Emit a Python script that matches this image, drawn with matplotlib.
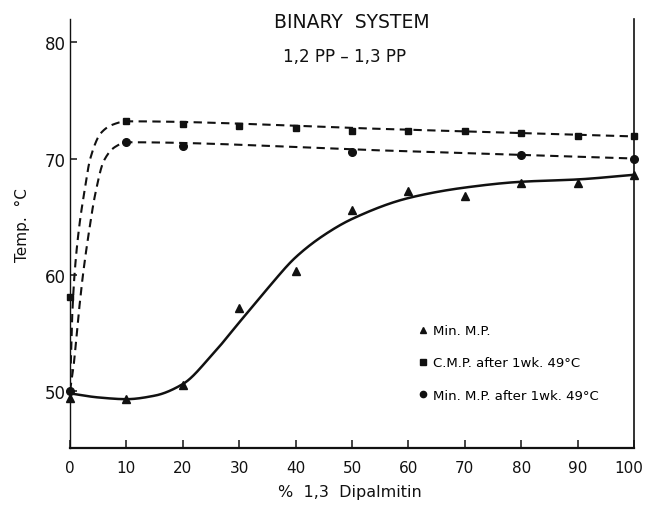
import numpy as np
import matplotlib
matplotlib.use("Agg")
import matplotlib.pyplot as plt
import matplotlib.transforms as mtransforms
from matplotlib.lines import Line2D

# Measured points (% 1,3 dipalmitin vs temperature, °C)
pct = [0, 10, 20, 30, 40, 50, 60, 70, 80, 90, 100]
min_mp = [49.4, 49.3, 50.5, 57.1, 60.3, 65.6, 67.2, 66.8, 67.9, 67.9, 68.6]
cmp_1wk = [58.1, 73.2, 73.0, 72.8, 72.6, 72.4, 72.4, 72.4, 72.2, 71.9, 71.9]
pct_min_1wk = [0, 10, 20, 50, 80, 100]
min_mp_1wk = [50.0, 71.4, 71.1, 70.6, 70.3, 70.0]

# Hand-drawn trend curves, traced as knots
min_mp_curve_x = [0, 5, 10, 15, 20, 25, 30, 35, 40, 45, 50, 60, 70, 80, 90, 100]
min_mp_curve_y = [49.8, 49.45, 49.3, 49.6, 50.6, 53.0, 55.9, 58.8, 61.5, 63.4,
                  64.8, 66.6, 67.5, 68.0, 68.2, 68.6]
cmp_curve_x = [0, 0.35, 0.8, 1.6, 2.5, 3.6, 5.5, 7.5, 10, 55, 100]
cmp_curve_y = [50.0, 56.0, 60.0, 64.0, 67.0, 70.0, 72.2, 72.9, 73.2, 72.55, 71.9]
min_1wk_curve_x = [0, 0.6, 1.4, 2.3, 3.3, 4.5, 6.0, 8.0, 10, 55, 100]
min_1wk_curve_y = [50.0, 52.0, 56.0, 60.0, 63.5, 67.0, 69.8, 71.0, 71.4, 70.7, 70.0]

x_ticks = [0, 10, 20, 30, 40, 50, 60, 70, 80, 90, 100]
y_ticks = [50, 60, 70, 80]
legend_labels = ["Min. M.P.", "C.M.P. after 1wk. 49°C", "Min. M.P. after 1wk. 49°C"]


def pchip(xk, yk, n=2000):
    """Monotone piecewise cubic Hermite curve through the knots."""
    xk = np.asarray(xk, float)
    yk = np.asarray(yk, float)
    h = np.diff(xk)
    d = np.diff(yk) / h
    m = np.zeros_like(yk)
    for i in range(1, len(xk) - 1):
        if d[i - 1] * d[i] > 0:
            w1 = 2 * h[i] + h[i - 1]
            w2 = h[i] + 2 * h[i - 1]
            m[i] = (w1 + w2) / (w1 / d[i - 1] + w2 / d[i])
    m[0] = d[0]
    m[-1] = d[-1]
    xs = np.unique(np.concatenate([np.linspace(xk[0], xk[-1], n),
                                   np.linspace(xk[0], xk[min(3, len(xk) - 1)], 200),
                                   xk]))
    idx = np.clip(np.searchsorted(xk, xs, side="right") - 1, 0, len(h) - 1)
    t = (xs - xk[idx]) / h[idx]
    h00 = 2 * t**3 - 3 * t**2 + 1
    h10 = t**3 - 2 * t**2 + t
    h01 = -2 * t**3 + 3 * t**2
    h11 = t**3 - t**2
    ys = (h00 * yk[idx] + h10 * h[idx] * m[idx]
          + h01 * yk[idx + 1] + h11 * h[idx] * m[idx + 1])
    return xs, ys


plt.rcParams["font.family"] = ["DejaVu Sans"]
fig = plt.figure(figsize=(6.48, 5.06), dpi=100)
ax = fig.add_axes([70 / 648, 1 - 449 / 506, 564 / 648, 429 / 506])

ink = "#111111"

xs, ys = pchip(min_mp_curve_x, min_mp_curve_y)
ax.plot(xs, ys, color=ink, lw=1.8, solid_capstyle="round")

xs, ys = pchip(cmp_curve_x, cmp_curve_y)
ax.plot(xs, ys, color=ink, lw=1.5, dashes=(4.0, 2.6))

xs, ys = pchip(min_1wk_curve_x, min_1wk_curve_y)
ax.plot(xs, ys, color=ink, lw=1.5, dashes=(4.0, 2.6))

ax.plot(pct, min_mp, linestyle="none", marker="^", ms=5.5, color=ink, clip_on=False)
ax.plot(pct, cmp_1wk, linestyle="none", marker="s", ms=5.0, color=ink, clip_on=False)
ax.plot(pct_min_1wk, min_mp_1wk, linestyle="none", marker="o", ms=5.5, color=ink,
        clip_on=False)

ax.set_xlim(0, 100)
ax.set_ylim(45.1, 82.0)
ax.set_xticks(x_ticks)
ax.set_yticks(y_ticks)
ax.tick_params(axis="x", direction="in", length=6, width=1.1, pad=9,
               labelsize=11, colors=ink)
ax.tick_params(axis="y", direction="in", length=5, width=1.1, pad=3,
               labelsize=12, colors=ink)
# keep the last x label inside the figure edge
last = ax.get_xticklabels()[-1]
last.set_transform(last.get_transform()
                   + mtransforms.ScaledTranslation(-5 / 100, 0, fig.dpi_scale_trans))

ax.spines["top"].set_visible(False)
for side in ("left", "right", "bottom"):
    ax.spines[side].set_color(ink)
ax.spines["left"].set_linewidth(1.0)
ax.spines["right"].set_linewidth(1.2)
ax.spines["bottom"].set_linewidth(1.6)

fig.text(352 / 648, 1 - 22 / 506, "BINARY  SYSTEM", ha="center", va="center",
         fontsize=13.5, color=ink)
fig.text(345 / 648, 1 - 57 / 506, "1,2 PP – 1,3 PP", ha="center", va="center",
         fontsize=12, color=ink)
fig.text(350 / 648, 1 - 493 / 506, "%  1,3  Dipalmitin", ha="center", va="center",
         fontsize=11.5, color=ink)
fig.text(22 / 648, 1 - 225 / 506, "Temp.  °C", ha="center", va="center",
         rotation=90, fontsize=11, color=ink)

handles = [
    Line2D([], [], linestyle="none", marker="^", ms=5, color=ink),
    Line2D([], [], linestyle="none", marker="s", ms=4.5, color=ink),
    Line2D([], [], linestyle="none", marker="o", ms=4.5, color=ink),
]
ax.legend(handles, legend_labels, loc="center left",
          bbox_to_anchor=((411 - 70) / 564, (449 - 364) / 429),
          frameon=False, fontsize=9.5, handlelength=0.8, handletextpad=0.4,
          labelspacing=1.45, borderpad=0)

fig.savefig("out.png", dpi=100)
